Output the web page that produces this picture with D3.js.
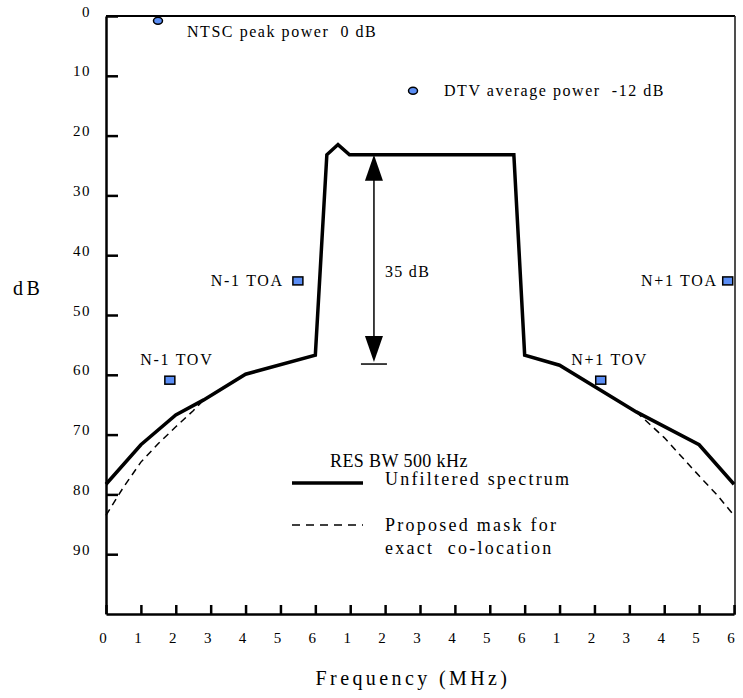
<!DOCTYPE html>
<html lang="en">
<head>
<meta charset="UTF-8">
<title>DTV spectrum mask</title>
<script src="https://cdn.jsdelivr.net/npm/d3@7"></script>
<style>
    body { margin: 0; background: #fff; }
</style>
</head>
<body>
<svg id="chart" width="743" height="698"></svg>
<script>
    // frequency runs over three 6 MHz channels: N-1, N, N+1
    var xTicks = d3.range(0, 19);
    var xTickLabels = ["0", "1", "2", "3", "4", "5", "6", "1", "2", "3", "4", "5", "6", "1", "2", "3", "4", "5", "6"];
    var yTicks = [0, 10, 20, 30, 40, 50, 60, 70, 80, 90];

    // unfiltered spectrum [MHz, dB down]
    var spectrumFreq = [0, 1, 2, 2.8, 4, 6, 6.33, 6.65, 6.98, 11.69, 12, 13, 15.2, 17, 18];
    var spectrumDb = [78.3, 71.7, 66.7, 64.2, 59.9, 56.7, 23.2, 21.5, 23.2, 23.2, 56.7, 58.4, 66.2, 71.7, 78.3];

    // proposed mask (only where it departs from the spectrum)
    var maskLeftFreq = [0, 0.5, 1, 1.5, 2, 2.5, 2.8];
    var maskLeftDb = [83.5, 78.8, 74.6, 71.5, 68.7, 66, 64.2];
    var maskRightFreq = [15.2, 16, 16.5, 17, 17.5, 18];
    var maskRightDb = [66.2, 70.5, 73.7, 76.9, 80, 83.5];

    // reference points
    var markerNames = ["NTSC peak power  0 dB", "DTV average power  -12 dB", "N-1 TOA", "N+1 TOA", "N-1 TOV", "N+1 TOV"];
    var markerFreq = [1.49, 8.8, 5.5, 17.82, 1.83, 14.18];
    var markerDb = [0.8, 12.5, 44.3, 44.3, 60.9, 60.9];
    var markerShape = ["circle", "circle", "square", "square", "square", "square"];

    var arrowFreq = 7.68;
    var arrowDb = [23.2, 58.2];

    var FONT = "'Liberation Serif', 'Times New Roman', Times, serif";
    var blue = "#5b8ef5";

    var svg = d3.select("#chart");
    var x = d3.scaleLinear().domain([0, 18]).range([106, 734]);
    var y = d3.scaleLinear().domain([0, 100]).range([16, 614]);

    function label(sel, size, spacing) {
        return sel.attr("font-family", FONT).style("font-family", FONT)
            .style("font-size", size + "px").style("letter-spacing", spacing + "px")
            .style("white-space", "pre").attr("fill", "#000");
    }

    // frame
    svg.append("line").attr("x1", 106).attr("x2", 735).attr("y1", 16).attr("y2", 16)
        .attr("stroke", "#000").attr("stroke-width", 2);
    svg.append("line").attr("x1", 735).attr("x2", 735).attr("y1", 16).attr("y2", 615)
        .attr("stroke", "#222").attr("stroke-width", 1.6);

    var yAxis = svg.append("g")
        .attr("transform", "translate(106,0)")
        .call(d3.axisLeft(y).tickValues(yTicks).tickSize(-12).tickSizeOuter(0).tickPadding(15)
            .tickFormat(d3.format("d")));
    yAxis.select(".domain").attr("stroke-width", 2.5);
    yAxis.selectAll(".tick line").attr("stroke-width", 2.5);
    label(yAxis.selectAll(".tick text").attr("dy", 0), 15, 1.5);

    var xAxis = svg.append("g")
        .attr("transform", "translate(0,614)")
        .call(d3.axisBottom(x).tickValues(xTicks).tickSize(-9).tickSizeOuter(0).tickPadding(18)
            .tickFormat(function (d, i) { return xTickLabels[i]; }));
    xAxis.select(".domain").attr("stroke-width", 2.5);
    xAxis.selectAll(".tick line").attr("stroke-width", 2.5);
    label(xAxis.selectAll(".tick text").attr("dx", -3.5), 15, 0);

    label(svg.append("text").attr("x", 413).attr("y", 685).attr("text-anchor", "middle"), 20, 3.4)
        .text("Frequency (MHz)");
    label(svg.append("text").attr("x", 13).attr("y", 295), 20, 3.5).text("dB");

    // curves
    var line = d3.line().x(function (d) { return x(d[0]); }).y(function (d) { return y(d[1]); });

    [d3.zip(maskLeftFreq, maskLeftDb), d3.zip(maskRightFreq, maskRightDb)].forEach(function (pts) {
        svg.append("path").datum(pts)
            .attr("d", line).attr("fill", "none").attr("stroke", "#000")
            .attr("stroke-width", 1.5).attr("stroke-dasharray", "7,5");
    });
    svg.append("path").datum(d3.zip(spectrumFreq, spectrumDb))
        .attr("d", line).attr("fill", "none").attr("stroke", "#000")
        .attr("stroke-width", 3.5).attr("stroke-linejoin", "miter");

    // 35 dB arrow
    var ax = x(arrowFreq), aTop = y(arrowDb[0]), aBot = y(arrowDb[1]);
    svg.append("line").attr("x1", ax).attr("x2", ax)
        .attr("y1", aTop + 20).attr("y2", aBot - 20)
        .attr("stroke", "#000").attr("stroke-width", 1.5);
    svg.append("path")
        .attr("d", "M" + ax + "," + aTop + "l-9,26h18z").attr("fill", "#000");
    svg.append("path")
        .attr("d", "M" + ax + "," + (aBot - 2) + "l-9,-26h18z").attr("fill", "#000");
    svg.append("line").attr("x1", ax - 13).attr("x2", ax + 13)
        .attr("y1", aBot).attr("y2", aBot)
        .attr("stroke", "#000").attr("stroke-width", 1.5);
    label(svg.append("text").attr("x", ax + 11).attr("y", y(43.6)), 16, 1.3).text("35 dB");

    // markers
    var labelPlace = {
        "NTSC peak power  0 dB": [29, 16, "start"],
        "DTV average power  -12 dB": [31, 5, "start"],
        "N-1 TOA": [-14, 5, "end"],
        "N+1 TOA": [-10, 5, "end"],
        "N-1 TOV": [7, -15, "middle"],
        "N+1 TOV": [9, -15, "middle"]
    };
    markerNames.forEach(function (name, i) {
        var cx = x(markerFreq[i]), cy = y(markerDb[i]);
        if (markerShape[i] === "circle") {
            svg.append("ellipse").attr("cx", cx).attr("cy", cy).attr("rx", 4.5).attr("ry", 3.5)
                .attr("fill", blue).attr("stroke", "#000").attr("stroke-width", 1.5);
        } else {
            svg.append("rect").attr("x", cx - 5).attr("y", cy - 4).attr("width", 10).attr("height", 8)
                .attr("fill", blue).attr("stroke", "#000").attr("stroke-width", 1.5);
        }
        var p = labelPlace[name];
        label(svg.append("text").attr("x", cx + p[0]).attr("y", cy + p[1]).attr("text-anchor", p[2]), 16,
            name.length > 20 ? 1.55 : 1.7)
            .text(name);
    });

    // legend block
    label(svg.append("text").attr("x", 330).attr("y", 467), 18, 0.4).text("RES BW 500 kHz");
    svg.append("line").attr("x1", 292).attr("x2", 363).attr("y1", 483).attr("y2", 483)
        .attr("stroke", "#000").attr("stroke-width", 3.5);
    svg.append("line").attr("x1", 292).attr("x2", 363).attr("y1", 525).attr("y2", 525)
        .attr("stroke", "#000").attr("stroke-width", 1.5).attr("stroke-dasharray", "8,6");
    label(svg.append("text").attr("x", 385).attr("y", 485), 18, 2.2).text("Unfiltered spectrum");
    label(svg.append("text").attr("x", 385).attr("y", 531), 18, 2.25).text("Proposed mask for");
    label(svg.append("text").attr("x", 385).attr("y", 554), 18, 2.25).text("exact  co-location");
</script>
</body>
</html>
